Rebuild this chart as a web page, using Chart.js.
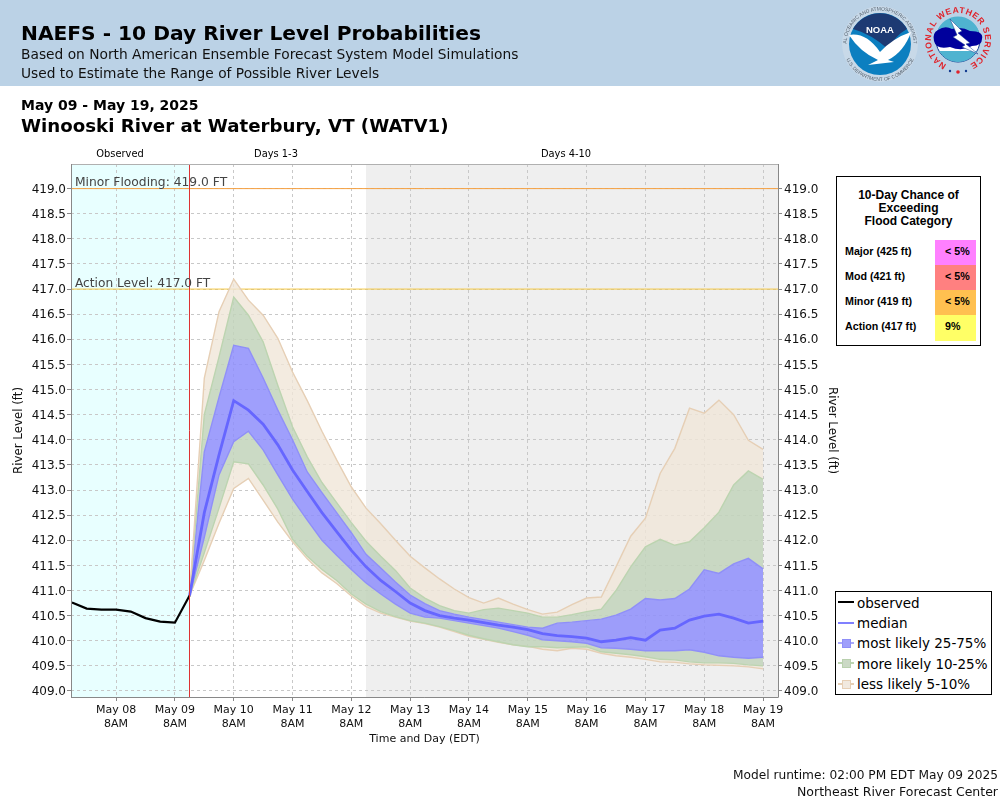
<!DOCTYPE html>
<html><head><meta charset="utf-8">
<script src="https://cdn.jsdelivr.net/npm/chart.js@4"></script>
<style>
html,body{margin:0;padding:0;background:#fff}
#page{position:relative;width:1000px;height:800px;overflow:hidden;font-family:"DejaVu Sans",sans-serif;color:#000}
#page div{position:absolute;white-space:nowrap}
canvas{position:absolute;left:0;top:0}
.arial{font-family:"Liberation Sans",Arial,sans-serif;font-weight:bold;font-size:10.7px;line-height:12px}
</style></head><body>
<div id="page">
<div style="left:0;top:0;width:1000px;height:86px;background:#bbd2e6"></div>
<canvas id="c" width="1000" height="800" style="width:1000px;height:800px"></canvas>
<div style="left:21px;top:19px;font-size:20.2px;line-height:28px;font-weight:bold">NAEFS - 10 Day River Level Probabilities</div>
<div style="left:21px;top:45px;font-size:13.77px;line-height:19px;color:#111">Based on North American Ensemble Forecast System Model Simulations</div>
<div style="left:21px;top:64px;font-size:13.77px;line-height:19px;color:#111">Used to Estimate the Range of Possible River Levels</div>
<div style="left:21px;top:96px;font-size:14px;line-height:18px;font-weight:bold">May 09 - May 19, 2025</div>
<div style="left:21px;top:114px;font-size:18.2px;line-height:24px;font-weight:bold">Winooski River at Waterbury, VT (WATV1)</div>
<div style="left:70px;width:100px;text-align:center;top:148px;font-size:9.9px;line-height:12px">Observed</div>
<div style="left:226px;width:100px;text-align:center;top:148px;font-size:9.9px;line-height:12px">Days 1-3</div>
<div style="left:516px;width:100px;text-align:center;top:148px;font-size:9.9px;line-height:12px">Days 4-10</div>
<div style="left:75px;top:175px;font-size:12.3px;line-height:15px;color:#444">Minor Flooding: 419.0 FT</div>
<div style="left:75px;top:276px;font-size:12.2px;line-height:15px;color:#444">Action Level: 417.0 FT</div>

<svg style="position:absolute;left:835px;top:0" width="165" height="86" viewBox="835 0 165 86">
<defs>
<path id="r1" d="M 846.5 44 A 33.5 33.5 0 1 1 913.5 44"/>
<path id="r2" d="M 843 44 A 37 37 0 0 0 917 44"/>
<path id="r3" d="M 944.5 63.4 A 27 27 0 1 1 971.5 63.4"/>
</defs>
<circle cx="880" cy="44" r="38" fill="#d3dfe9" opacity="0.55"/>
<circle cx="880" cy="44" r="31" fill="#0c7fc0"/>
<path d="M 853 29 A 31 31 0 0 1 907 29 Q 896 35 888 49 Q 871 34 853 29 Z" fill="#1d3a73"/>
<path d="M 849 35 Q 866 32 880 52 Q 893 38 911 32 Q 904 52 888 60 L 894 62 L 868 65 L 878 60 Q 860 52 849 35 Z" fill="#fff"/>
<text x="880" y="33" text-anchor="middle" font-family="Liberation Sans" font-size="9.5" font-weight="bold" fill="#fff">NOAA</text>
<text font-family="Liberation Sans" font-size="5" fill="#56636f"><textPath href="#r1" startOffset="50%" text-anchor="middle">NATIONAL OCEANIC AND ATMOSPHERIC ADMINISTRATION</textPath></text>
<text font-family="Liberation Sans" font-size="5" fill="#56636f"><textPath href="#r2" startOffset="50%" text-anchor="middle">U.S. DEPARTMENT OF COMMERCE</textPath></text>
<circle cx="958" cy="40" r="22" fill="#fff" stroke="#123a8f"/>
<path d="M 937 32 A 22 22 0 0 1 979 32 Z" fill="#4fb3d0"/>
<path d="M 939 51 A 22 22 0 0 0 977 51 Z" fill="#4fb3d0"/>
<path d="M 938 30 Q 945 25 952 29 Q 962 26 970 31 Q 984 31 982 39 Q 982 46 972 46 Q 962 52 950 47 Q 936 50 934 41 Q 932 33 938 30 Z" fill="#00009c"/>
<path d="M 950 19 L 962 31 L 958 33 L 970 43 L 966 44 L 978 54 L 962 47 L 965 45 L 953 37 L 957 35 Z" fill="#fff" stroke="#123a8f" stroke-width="0.5"/>
<text font-family="Liberation Sans" font-size="8.6" font-weight="bold" letter-spacing="0.7" fill="#e0222a"><textPath href="#r3" startOffset="50%" text-anchor="middle">NATIONAL WEATHER SERVICE</textPath></text>
<circle cx="950" cy="71" r="1.2" fill="#123a8f"/><circle cx="966" cy="71" r="1.2" fill="#123a8f"/><circle cx="958" cy="72" r="1.8" fill="#e0222a"/>
</svg>

<div style="left:836px;top:176px;width:143px;height:168px;border:1.5px solid #000;background:#fff"></div>
<div class="arial" style="left:837px;width:143px;text-align:center;top:189px;font-size:12px;line-height:13px">10-Day Chance of<br>Exceeding<br>Flood Category</div>
<div class="arial" style="left:845px;top:245px">Major (425 ft)</div>
<div class="arial" style="left:845px;top:270px">Mod (421 ft)</div>
<div class="arial" style="left:845px;top:295px">Minor (419 ft)</div>
<div class="arial" style="left:845px;top:320px">Action (417 ft)</div>
<div style="left:935px;top:240px;width:41px;height:25px;background:#ff80ff"></div>
<div style="left:935px;top:265px;width:41px;height:25px;background:#ff8080"></div>
<div style="left:935px;top:290px;width:41px;height:25px;background:#ffc050"></div>
<div style="left:935px;top:315px;width:41px;height:26px;background:#ffff66"></div>
<div class="arial" style="left:945px;top:245px">&lt; 5%</div>
<div class="arial" style="left:945px;top:270px">&lt; 5%</div>
<div class="arial" style="left:945px;top:295px">&lt; 5%</div>
<div class="arial" style="left:945px;top:320px">9%</div>

<div style="left:835px;top:591px;width:155px;height:102px;border:1.5px solid #000;background:#fff"></div>
<div style="left:838px;top:601px;width:16px;height:2px;background:#000"></div>
<div style="left:838px;top:622px;width:16px;height:2px;background:#8080ff"></div>
<div style="left:838px;top:642px;width:16px;height:2px;background:#a9a9fb"></div>
<div style="left:842px;top:639px;width:7px;height:7px;background:#9f9ffb;border:1px solid #8f8ff8"></div>
<div style="left:838px;top:662px;width:16px;height:2px;background:#bcd4b0"></div>
<div style="left:842px;top:659px;width:7px;height:7px;background:#cbd9c5;border:1px solid #b9d0ae"></div>
<div style="left:838px;top:683px;width:16px;height:2px;background:#e6cfb5"></div>
<div style="left:842px;top:680px;width:7px;height:7px;background:#f1e9df;border:1px solid #e6cfb5"></div>
<div style="left:857px;top:594px;font-size:13.5px;line-height:18px">observed</div>
<div style="left:857px;top:614px;font-size:13.5px;line-height:18px">median</div>
<div style="left:857px;top:634px;font-size:13.5px;line-height:18px">most likely 25-75%</div>
<div style="left:857px;top:655px;font-size:13.5px;line-height:18px">more likely 10-25%</div>
<div style="left:857px;top:675px;font-size:13.5px;line-height:18px">less likely 5-10%</div>

<div style="right:2px;top:768px;font-size:12.2px;line-height:15px;color:#111">Model runtime: 02:00 PM EDT May 09 2025</div>
<div style="right:2px;top:784px;font-size:12.5px;line-height:15px;color:#111">Northeast River Forecast Center</div>
</div>
<script>
const obsHours = [-18,-12,-6,0,6,12,18,24,30];
const observed = [410.76,410.64,410.62,410.62,410.58,410.45,410.38,410.36,410.9];
const fcstHours = [30,36,42,48,54,60,66,72,78,84,90,96,102,108,114,120,126,132,138,144,150,156,162,168,174,180,186,192,198,204,210,216,222,228,234,240,246,252,258,264];
const p95 = [410.9,415.23,416.55,417.2,416.78,416.48,416.02,415.35,414.78,414.17,413.6,413.06,412.64,412.33,412.0,411.68,411.45,411.23,411.03,410.86,410.75,410.85,410.73,410.62,410.53,410.57,410.72,410.85,410.87,411.47,412.08,412.44,413.33,413.83,414.63,414.53,414.79,414.5,413.99,413.81];
const p90 = [410.9,414.5,415.65,416.84,416.48,415.95,415.08,414.26,413.66,413.15,412.75,412.35,411.98,411.68,411.4,411.05,410.85,410.7,410.6,410.55,410.62,410.65,410.6,410.55,410.47,410.47,410.52,410.58,410.63,411.0,411.47,411.87,412.02,411.9,411.97,412.25,412.56,413.1,413.38,413.21];
const p75 = [410.9,413.76,414.85,415.88,415.82,415.23,414.59,414.0,413.36,412.95,412.55,412.15,411.72,411.45,411.17,410.91,410.74,410.6,410.53,410.47,410.42,410.37,410.32,410.27,410.25,410.35,410.37,410.4,410.43,410.51,410.63,410.84,410.81,410.84,411.03,411.41,411.34,411.53,411.64,411.43];
const median = [410.9,412.55,413.7,414.78,414.59,414.31,413.9,413.4,412.97,412.55,412.17,411.8,411.47,411.2,410.98,410.75,410.6,410.5,410.45,410.41,410.36,410.31,410.27,410.22,410.14,410.1,410.08,410.05,409.98,410.01,410.06,410.01,410.21,410.25,410.41,410.49,410.53,410.45,410.35,410.39];
const p25 = [410.9,412.06,413.3,413.96,414.17,413.8,413.3,412.82,412.4,412.0,411.7,411.42,411.15,410.93,410.73,410.55,410.47,410.45,410.4,410.35,410.3,410.25,410.18,410.11,410.02,410.0,409.98,409.95,409.86,409.85,409.83,409.8,409.8,409.8,409.82,409.77,409.7,409.67,409.65,409.67];
const p10 = [410.9,411.75,412.64,413.56,413.52,413.1,412.62,412.02,411.68,411.42,411.2,410.93,410.73,410.58,410.48,410.4,410.35,410.28,410.2,410.11,410.04,409.98,409.92,409.88,409.88,409.86,409.87,409.88,409.78,409.75,409.72,409.68,409.63,409.62,409.58,409.56,409.56,409.55,409.52,409.5];
const p5 = [410.9,411.6,412.34,413.03,413.23,412.8,412.36,411.97,411.63,411.35,411.14,410.89,410.68,410.55,410.47,410.39,410.34,410.27,410.18,410.09,410.03,409.97,409.92,409.89,409.83,409.8,409.85,409.83,409.75,409.7,409.67,409.63,409.58,409.57,409.54,409.52,409.51,409.5,409.48,409.44];
const xTickHours = [0,24,48,72,96,120,144,168,192,216,240,264];
const xTickLabels = ["May 08","May 09","May 10","May 11","May 12","May 13","May 14","May 15","May 16","May 17","May 18","May 19"];
const yTicks = [409,409.5,410,410.5,411,411.5,412,412.5,413,413.5,414,414.5,415,415.5,416,416.5,417,417.5,418,418.5,419];
const xRange = [-18.4,270.1];
const yRange = [408.88,419.49];
const obsEndHour = 30;
const fcstShadeStart = 102;
const minorLevel = 419;
const actionLevel = 417;

const pts = (xs,ys)=>xs.map((x,i)=>({x,y:ys[i]}));
const beige='rgba(240,230,216,0.8)', green='rgba(194,211,187,0.85)', blue='rgba(142,142,251,0.85)';
const band=(label,ys,target,color,edge)=>({label,data:pts(fcstHours,ys),borderColor:edge,borderWidth:1.4,backgroundColor:color,
  fill:target===null?false:{target,above:color,below:color},pointRadius:0,tension:0,order:5});
const ds=[
 band('less likely 5-10%',p95,null,beige,'#e6cfb5'),
 band('more likely 10-25%',p90,0,beige,'#bcd4b0'),
 band('most likely 25-75%',p75,1,green,'#8f8ff8'),
 band('most likely 25-75%',p25,2,blue,'#8f8ff8'),
 band('more likely 10-25%',p10,3,green,'#bcd4b0'),
 band('less likely 5-10%',p5,4,beige,'#e6cfb5'),
 {label:'median',data:pts(fcstHours,median),borderColor:'#6666ff',borderWidth:2.8,pointRadius:0,tension:0,fill:false,order:2},
 {label:'observed',data:pts(obsHours,observed),borderColor:'#000',borderWidth:2.2,pointRadius:0,tension:0,fill:false,order:1},
 {label:'Minor Flooding',data:pts(xRange,[minorLevel,minorLevel]),borderColor:'#f5a040',borderWidth:1,pointRadius:0,fill:false,order:6},
 {label:'Action Level',data:pts(xRange,[actionLevel,actionLevel]),borderColor:'#f5c842',borderWidth:1,pointRadius:0,fill:false,order:6}
];
const frame={id:'frame',
 beforeDraw(ch){const a=ch.chartArea,x=ch.scales.x,g=ch.ctx;g.save();
  g.fillStyle='#e8ffff';g.fillRect(a.left,a.top,x.getPixelForValue(obsEndHour)-a.left,a.height);
  const s=x.getPixelForValue(fcstShadeStart);g.fillStyle='#efefef';g.fillRect(s,a.top,a.right-s,a.height);g.restore();},
 afterDraw(ch){const a=ch.chartArea,x=ch.scales.x,g=ch.ctx;g.save();
  g.strokeStyle='#dd3333';g.lineWidth=1;const p=Math.floor(x.getPixelForValue(obsEndHour))+.5;
  g.beginPath();g.moveTo(p,a.top);g.lineTo(p,a.bottom);g.stroke();
  g.strokeStyle='#b0b0b0';g.lineWidth=1;g.strokeRect(a.left+.5,a.top+.5,a.width,a.height);
  g.strokeStyle='#888';g.beginPath();g.moveTo(a.left,a.bottom+.5);g.lineTo(a.right,a.bottom+.5);g.stroke();
  g.beginPath();g.moveTo(a.left+.5,a.top);g.lineTo(a.left+.5,a.bottom);g.moveTo(a.right+.5,a.top);g.lineTo(a.right+.5,a.bottom);g.stroke();
  g.restore();}
};
const tickFont={family:'"DejaVu Sans"',size:12};
const yTickFmt=v=>Number(v).toFixed(1);
const setY=s=>{s.ticks=yTicks.map(v=>({value:v}));};
new Chart(document.getElementById('c'),{type:'line',data:{datasets:ds},plugins:[frame],options:{
 responsive:false,animation:false,devicePixelRatio:1,
 layout:{padding:{left:0,right:0,top:164,bottom:0}},
 plugins:{legend:{display:false},tooltip:{enabled:false},title:{display:false}},
 scales:{
  x:{type:'linear',min:xRange[0],max:xRange[1],
   afterBuildTicks:s=>{s.ticks=xTickHours.map(v=>({value:v}));},
   afterFit:s=>{s.height=103;},
   border:{display:false,dash:[3,3]},
   grid:{color:'#c8c8c8',tickColor:'#888',tickLength:4,drawTicks:true,lineWidth:1},
   ticks:{autoSkip:false,maxRotation:0,color:'#111',font:{family:'"DejaVu Sans"',size:11},padding:3,
     callback:(v)=>{const i=xTickHours.indexOf(v);return i<0?'':[xTickLabels[i],'8AM'];}},
   title:{display:true,text:'Time and Day (EDT)',color:'#111',font:{family:'"DejaVu Sans"',size:11},padding:{top:0,bottom:54}}
  },
  y:{type:'linear',position:'left',min:yRange[0],max:yRange[1],afterBuildTicks:setY,
   afterFit:s=>{s.width=71;},border:{display:false,dash:[3,3]},
   grid:{color:'#c8c8c8',tickColor:'#888',tickLength:4,lineWidth:1},
   ticks:{color:'#111',font:tickFont,padding:1,autoSkip:false,labelOffset:1,callback:yTickFmt},
   title:{display:true,text:'River Level (ft)',color:'#111',font:{family:'"DejaVu Sans"',size:11.8},padding:{top:12,bottom:0}}
  },
  y2:{type:'linear',position:'right',min:yRange[0],max:yRange[1],afterBuildTicks:setY,
   afterFit:s=>{s.width=222;},border:{display:false},
   grid:{drawOnChartArea:false,tickColor:'#888',tickLength:4},
   ticks:{color:'#111',font:tickFont,padding:2,autoSkip:false,labelOffset:1,callback:yTickFmt},
   title:{display:true,text:'River Level (ft)',color:'#111',font:{family:'"DejaVu Sans"',size:11.8},padding:{top:161,bottom:0}}
  }
 }
}});
</script>
</body></html>
